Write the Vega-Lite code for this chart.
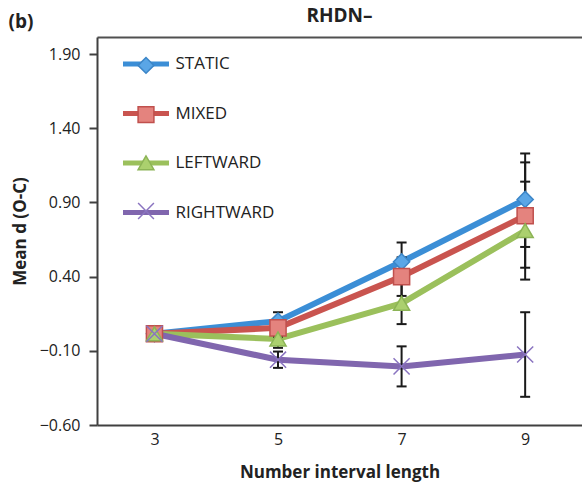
{
  "$schema": "https://vega.github.io/schema/vega-lite/v6.json",
  "width": 485,
  "height": 388,
  "autosize": {"type": "none"},
  "padding": {"left": 97, "top": 37, "right": 0, "bottom": 60},
  "background": "white",
  "config": {"view": {"stroke": null}},
  "title": {"text": "RHDN–", "font": "Open Sans", "fontSize": 19, "fontWeight": "bold", "color": "#222", "anchor": "middle", "offset": -14},
  "data": {"values": [
    {"series": "STATIC", "x": 3, "y": 0.015},
    {"series": "STATIC", "x": 5, "y": 0.10, "lo": 0.04, "hi": 0.16},
    {"series": "STATIC", "x": 7, "y": 0.50, "lo": 0.37, "hi": 0.63},
    {"series": "STATIC", "x": 9, "y": 0.92, "lo": 0.60, "hi": 1.23},
    {"series": "MIXED", "x": 3, "y": 0.015},
    {"series": "MIXED", "x": 5, "y": 0.055, "lo": -0.005, "hi": 0.115},
    {"series": "MIXED", "x": 7, "y": 0.40, "lo": 0.27, "hi": 0.53},
    {"series": "MIXED", "x": 9, "y": 0.81, "lo": 0.46, "hi": 1.17},
    {"series": "LEFTWARD", "x": 3, "y": 0.015},
    {"series": "LEFTWARD", "x": 5, "y": -0.02, "lo": -0.08, "hi": 0.04},
    {"series": "LEFTWARD", "x": 7, "y": 0.22, "lo": 0.08, "hi": 0.36},
    {"series": "LEFTWARD", "x": 9, "y": 0.71, "lo": 0.38, "hi": 1.04},
    {"series": "RIGHTWARD", "x": 3, "y": 0.015},
    {"series": "RIGHTWARD", "x": 5, "y": -0.16, "lo": -0.215, "hi": -0.105},
    {"series": "RIGHTWARD", "x": 7, "y": -0.205, "lo": -0.34, "hi": -0.07},
    {"series": "RIGHTWARD", "x": 9, "y": -0.125, "lo": -0.41, "hi": 0.16}
  ]},
  "resolve": {"axis": {"x": "independent"}},
  "layer": [
    {
      "mark": {"type": "line", "strokeWidth": 6, "strokeJoin": "round"},
      "encoding": {
        "x": {"field": "x", "type": "quantitative", "scale": {"domain": [2.07, 9.92], "nice": false, "zero": false},
          "axis": {"orient": "bottom", "values": [3, 5, 7, 9], "grid": false, "ticks": false, "tickSize": 0, "domainColor": "#404040", "domainWidth": 2,
            "labelFont": "Open Sans", "labelFontSize": 16, "labelColor": "#222", "labelPadding": 6,
            "title": "Number interval length", "titleFont": "Open Sans", "titleFontSize": 17, "titleFontWeight": "bold", "titleColor": "#222", "titlePadding": 17}},
        "y": {"field": "y", "type": "quantitative", "scale": {"domain": [-0.6, 2.015], "nice": false, "zero": false},
          "axis": {"values": [-0.6, -0.1, 0.4, 0.9, 1.4, 1.9], "format": ".2f", "grid": false, "domainColor": "#404040", "domainWidth": 2,
            "tickColor": "#404040", "tickWidth": 2, "tickSize": 8,
            "labelFont": "Open Sans", "labelFontSize": 16, "labelColor": "#222", "labelPadding": 9,
            "title": "Mean d (O-C)", "titleFont": "Open Sans", "titleFontSize": 17, "titleFontWeight": "bold", "titleColor": "#222", "titlePadding": 10}},
        "color": {"field": "series", "type": "nominal", "sort": ["STATIC", "MIXED", "LEFTWARD", "RIGHTWARD"],
          "scale": {"range": ["#3b8ed6", "#c9544f", "#9bc05c", "#8066ae"]},
          "legend": {"orient": "none", "legendX": 35, "legendY": 13, "title": null, "padding": 0,
            "symbolType": "M-2,0L2,0", "symbolSize": 529, "symbolStrokeWidth": 5,
            "labelFont": "Open Sans", "labelFontSize": 17, "labelColor": "#222", "labelOffset": 15.5, "rowPadding": 25.5}}
      }
    },
    {
      "mark": {"type": "rule", "color": "#1a1a1a", "strokeWidth": 2},
      "encoding": {
        "x": {"field": "x", "type": "quantitative",
          "axis": {"orient": "top", "ticks": false, "labels": false, "grid": false, "domainColor": "#505050", "domainWidth": 2,
            "title": "(b)", "titleX": -89, "titleY": -16, "titleAlign": "left", "titleBaseline": "middle", "titleAngle": 0,
            "titleFont": "Open Sans", "titleFontSize": 19, "titleFontWeight": "bold", "titleColor": "#222"}},
        "y": {"field": "lo", "type": "quantitative"},
        "y2": {"field": "hi"}
      }
    },
    {
      "mark": {"type": "tick", "orient": "horizontal", "color": "#1a1a1a", "size": 10, "thickness": 2, "opacity": 1},
      "encoding": {
        "x": {"field": "x", "type": "quantitative", "axis": null},
        "y": {"field": "lo", "type": "quantitative"}
      }
    },
    {
      "mark": {"type": "tick", "orient": "horizontal", "color": "#1a1a1a", "size": 10, "thickness": 2, "opacity": 1},
      "encoding": {
        "x": {"field": "x", "type": "quantitative", "axis": null},
        "y": {"field": "hi", "type": "quantitative"}
      }
    },
    {
      "mark": {"type": "point", "filled": true, "opacity": 1, "strokeWidth": 1.5, "size": 260},
      "encoding": {
        "x": {"field": "x", "type": "quantitative", "axis": null},
        "y": {"field": "y", "type": "quantitative"},
        "shape": {"field": "series", "type": "nominal",
          "scale": {"domain": ["STATIC", "MIXED", "LEFTWARD", "RIGHTWARD"], "range": ["diamond", "square", "triangle-up", "M-1,-1L1,1M1,-1L-1,1"]},
          "legend": {"orient": "none", "legendX": 40, "legendY": 19.4, "title": null, "padding": 0, "symbolSize": 250, "symbolStrokeWidth": 1.5,
            "labelFont": "Open Sans", "labelFontSize": 17, "labelExpr": "''", "rowPadding": 27.2}},
        "fill": {"field": "series", "type": "nominal",
          "scale": {"domain": ["STATIC", "MIXED", "LEFTWARD", "RIGHTWARD"], "range": ["#5aa6e6", "#e4837e", "#abd06e", "#9a86c4"]},
          "legend": {"orient": "none", "legendX": 40, "legendY": 19.4, "title": null, "padding": 0, "symbolSize": 250, "symbolStrokeWidth": 1.5,
            "labelFont": "Open Sans", "labelFontSize": 17, "labelExpr": "''", "rowPadding": 27.2}},
        "stroke": {"field": "series", "type": "nominal",
          "scale": {"domain": ["STATIC", "MIXED", "LEFTWARD", "RIGHTWARD"], "range": ["#3c86c8", "#c0504d", "#8cb456", "#8a74c0"]},
          "legend": {"orient": "none", "legendX": 40, "legendY": 19.4, "title": null, "padding": 0, "symbolSize": 250, "symbolStrokeWidth": 1.5,
            "labelFont": "Open Sans", "labelFontSize": 17, "labelExpr": "''", "rowPadding": 27.2}}
      }
    }
  ]
}
